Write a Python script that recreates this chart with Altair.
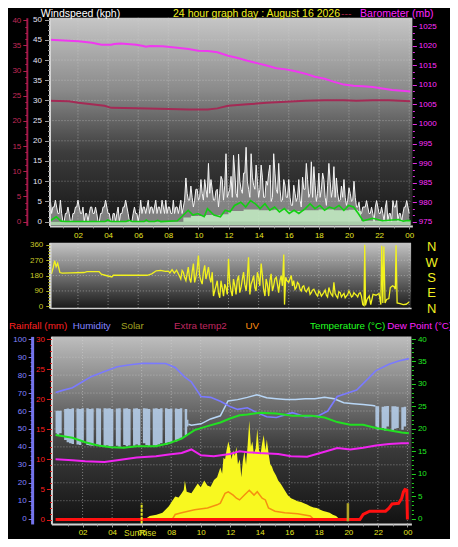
import altair as alt
import pandas as pd

# ------------------------------------------------------------------ data
HOUR_LABELS = [2, 4, 6, 8, 10, 12, 14, 16, 18, 20, 22, 24]
HOUR_TICKS = list(range(1, 25))

# barometer (mb)
baro_h = [0.11, 1.07, 2.03, 2.93, 3.57, 4.21, 4.40, 4.85, 5.88, 6.33, 6.52, 6.78, 7.61, 8.44, 9.34,
          9.98, 10.62, 11.26, 11.97, 12.61, 13.25, 13.89, 14.53, 15.17, 15.81, 16.45, 17.10, 17.74,
          18.38, 19.01, 19.66, 20.30, 20.94, 21.58, 22.22, 22.87, 23.51, 24.08]
baro_v = [1021.6, 1021.4, 1021.2, 1020.8, 1020.3, 1020.3, 1020.5, 1020.6, 1020.3, 1020.0, 1019.8,
          1020.0, 1019.9, 1019.6, 1019.2, 1018.8, 1018.7, 1018.4, 1017.5, 1016.9, 1016.2, 1015.6,
          1015.0, 1014.3, 1014.0, 1013.5, 1012.9, 1012.1, 1011.6, 1010.8, 1010.1, 1009.8, 1009.7,
          1009.5, 1009.1, 1008.7, 1008.5, 1008.3]

# extra temperature (crimson axis)
xtemp_h = [0.11, 1.39, 2.03, 3.76, 4.21, 5.88, 8.06, 9.34, 10.17, 10.62, 11.26, 11.97, 13.25, 14.53,
           15.81, 17.10, 18.38, 19.66, 20.49, 21.58, 22.67, 24.08]
xtemp_v = [24.0, 23.9, 23.6, 23.0, 22.6, 22.5, 22.4, 22.3, 22.3, 22.3, 22.5, 23.0, 23.3, 23.6, 23.8,
           24.0, 24.1, 24.1, 24.0, 24.1, 24.1, 23.9]

# wind gust (kph): readings on the 10-minute marks from 00:10 to 24:00 ...
gust_v = [
    5.3, 3.6, 5.3, 2, 5.3, 0,
    2, 3.6, 0, 2, 3.6, 5.3,
    2, 3.6, 2, 0, 3.6, 2,
    3.6, 0, 2, 3.6, 5.3, 2,
    0, 2, 0, 3.6, 2, 3.6,
    5.3, 2, 0, 2, 2, 0,
    5.3, 3.6, 2, 5.3, 3.6, 2,
    5.3, 3.6, 2, 3.6, 5.3, 3.6,
    2, 5.3, 3.6, 2, 5.3, 3.6,
    10.8, 5.3, 8.8, 3.6, 8, 5.3,
    10.4, 5.3, 8, 14.4, 10.4, 5.3,
    7.6, 3.6, 11.2, 5.3, 16.8, 7,
    11.2, 16.4, 7, 16.7, 8, 12,
    18.4, 8, 16.8, 9, 14, 6,
    14, 6, 10, 12, 5, 16.8,
    8, 14.4, 5, 10.4, 6, 10.4,
    4, 9, 5, 10.4, 3.6, 8,
    14.4, 6, 14.8, 13.6, 5, 12,
    8, 10.4, 4, 14.4, 6, 13.6,
    10.8, 5, 8.8, 10.4, 4, 8.4,
    5, 10, 3.6, 4.8, 2, 3.6,
    5.2, 2, 3.6, 0, 5.2, 2,
    3.6, 0, 5.2, 2, 0, 3.6,
    5.2, 2, 0, 3.6, 5.2, 2,
]
# ... and the readings five minutes after each of those marks (00:05 ... 23:55)
gust_mid_v = [
    3.6, 2, 3.6, 3.6, 2, 2,
    0, 2, 2, 0, 2, 3.6,
    3.6, 2, 0, 2, 2, 3.6,
    2, 2, 0, 2, 3.6, 3.6,
    2, 0, 2, 2, 0, 2,
    3.6, 3.6, 0, 0, 3.6, 2,
    2, 2, 3.6, 3.6, 2, 3.6,
    3.6, 2, 3.6, 5.3, 2, 2,
    3.6, 2, 2, 3.6, 3.6, 2,
    5.3, 7, 5.3, 6, 5.3, 8,
    6, 7, 10.4, 6, 7, 8,
    5.3, 8, 7, 10.4, 9, 6,
    8, 6, 12, 6, 10, 7,
    12, 10, 6, 11, 8, 10,
    8, 11, 6, 9, 14, 6,
    12, 7, 8, 5.3, 9, 6,
    6, 4, 7, 6, 5.3, 11,
    8, 10.4, 7, 6, 9, 7,
    6, 12, 6, 9, 10, 8,
    6, 7, 5.3, 6, 6, 5.3,
    7, 5.3, 6, 3.6, 2, 3.6,
    3.6, 3.6, 2, 2, 3.6, 3.6,
    2, 2, 3.6, 0, 2, 5.2,
    3.6, 0, 2, 2, 3.6, 3.6,
]
gust_h = [round((i + 1) / 6, 3) for i in range(len(gust_v))] + \
         [round((i + 0.5) / 6, 3) for i in range(len(gust_mid_v))]
gust_all = gust_v + gust_mid_v

# average wind speed (green line)
wavg_h = [0.11, 0.24, 0.56, 0.88, 1.2, 3.8, 3.97, 4.2, 5.2, 5.37, 5.6, 6.4, 6.54, 6.7, 7.1, 7.29, 7.5,
          8.6, 8.89, 9.32, 9.64, 9.96, 10.38, 10.6, 11.03, 11.46, 11.78, 12.1, 12.4, 12.82, 13.14,
          13.46, 13.78, 14.1, 14.42, 14.74, 15.06, 15.38, 15.71, 16.03, 16.35, 16.67, 17.1, 17.42,
          17.74, 18.06, 18.38, 18.7, 19.02, 19.34, 19.66, 19.98, 20.3, 20.62, 20.94, 21.58, 22.22,
          22.87, 23.29, 23.6, 23.9, 24.1]
wavg_v = [0.2, 0.4, 1.2, 0.1, 0, 0, 0.4, 0, 0, 0.3, 0, 0, 0.4, 0, 0, 0.3, 0, 0.2, 1.2, 2.8, 1.6, 2.0,
          1.2, 3.2, 1.6, 1.2, 2.8, 2.4, 4.0, 4.8, 3.6, 5.2, 4.4, 3.2, 4.4, 2.8, 3.6, 2.4, 3.2, 2.0,
          2.8, 2.0, 3.2, 4.4, 3.2, 4.0, 2.8, 3.6, 3.2, 4.0, 2.8, 4.0, 3.6, 2.0, 0.2, 0.8, 0.2, 0.4,
          0.5, 0.1, 0.3, 0.2]

# wind speed (pale green area)
wspd_h = [0.11, 8.8, 9.0, 9.5, 10.5, 11.5, 12.0, 13.0, 14.0, 15.0, 16.0, 17.0, 18.0, 19.0, 20.0,
          20.6, 20.8, 24.1]
wspd_v = [0.0, 0.0, 1.0, 1.4, 1.6, 1.8, 2.6, 3.0, 2.8, 2.9, 2.6, 2.8, 3.0, 2.8, 2.9, 2.6, 0.2, 0.1]

# wind direction (degrees)
dir_h = [0.24, 0.35, 0.45, 0.55, 0.65, 0.8, 0.95, 1.5, 2.4, 2.6, 3.4, 3.55, 3.8, 4.25, 4.35, 6.6,
         6.9, 7.2, 7.5, 7.8, 8.0, 8.1, 8.25, 8.4, 8.55, 8.7, 8.83, 9.0, 9.17, 9.33, 9.5, 9.67, 9.83,
         10.0, 10.17, 10.33, 10.5, 10.67, 10.83, 11.0, 11.17, 11.33, 11.5, 11.67, 11.83, 12.0,
         12.17, 12.33, 12.5, 12.67, 12.83, 13.0, 13.17, 13.33, 13.5, 13.67, 13.83, 14.0, 14.17,
         14.33, 14.5, 14.67, 14.83, 15.0, 15.17, 15.33, 15.5, 15.67, 15.72, 15.8, 16.0, 16.17,
         16.33, 16.5, 16.67, 16.83, 17.0, 17.17, 17.33, 17.5, 17.67, 17.83, 18.0, 18.17, 18.33,
         18.5, 18.67, 18.83, 19.0, 19.17, 19.33, 19.5, 19.67, 19.83, 20.0, 20.17, 20.33, 20.5,
         20.67, 20.83, 20.92, 21.0, 21.05, 21.1, 21.2, 21.35, 21.45, 21.6, 21.8, 22.0, 22.12,
         22.18, 22.25, 22.32, 22.4, 22.5, 22.65, 22.75, 22.9, 23.0, 23.08, 23.13, 23.2, 23.4,
         23.6, 23.8, 24.0,
         8.92, 9.08, 9.25, 9.42, 9.58, 9.75, 9.92, 10.08, 10.25, 10.42, 10.58, 10.75, 10.92, 11.08,
         11.25, 11.42, 11.58, 11.75, 11.92, 12.08, 12.25, 12.42, 12.58, 12.75, 12.92, 13.08, 13.25,
         13.42, 13.58, 13.75, 13.92, 14.08, 14.25, 14.42, 14.58, 14.75, 14.92, 15.08, 15.25, 15.42,
         15.58, 15.88, 16.08, 16.25, 16.42, 16.58, 16.75, 16.92, 17.08, 17.25, 17.42, 17.58, 17.75,
         17.92, 18.08, 18.25, 18.42, 18.58, 18.75, 18.92, 19.08, 19.25, 19.42, 19.58, 19.75, 19.92,
         20.08, 20.25, 20.42, 20.58, 20.75]
dir_v = [190, 225, 268, 232, 252, 198, 195, 196, 198, 203, 203, 188, 182, 172, 182, 182, 190, 208,
         210, 205, 206, 196, 215, 195, 212, 185, 160, 200, 150, 230, 140, 250, 170, 298, 150, 200,
         160, 230, 140, 60, 120, 80, 150, 60, 110, 279, 90, 160, 70, 180, 110, 200, 90, 288, 130,
         180, 90, 170, 251, 100, 160, 60, 190, 120, 170, 80, 180, 304, 10, 170, 140, 180, 150, 110,
         130, 90, 120, 85, 110, 80, 100, 70, 90, 60, 80, 65, 110, 70, 140, 60, 85, 55, 75, 60, 90,
         55, 80, 65, 75, 60, 10, 5, 360, 5, 40, 60, 10, 70, 65, 75, 10, 355, 20, 350, 20, 40, 45,
         110, 120, 115, 100, 358, 20, 15, 10, 12, 25,
         210, 170, 190, 160, 200, 140, 220, 180, 130, 240, 190, 170, 200, 90, 150, 50, 110, 130,
         70, 140, 60, 120, 150, 80, 160, 130, 170, 70, 150, 110, 200, 120, 180, 60, 130, 150, 90,
         160, 130, 150, 120, 150, 160, 120, 100, 140, 100, 115, 95, 100, 70, 95, 85, 60, 80, 70,
         95, 55, 85, 60, 75, 50, 80, 65, 50, 70, 75, 60, 70, 55, 80]

# humidity (%)
hum_h = [0.17, 0.65, 1.31, 1.96, 2.61, 3.48, 4.35, 5.23, 6.10, 7.62, 8.27, 8.93, 9.37, 10.02, 10.67,
         11.33, 11.98, 12.50, 13.16, 13.81, 14.47, 15.12, 16.21, 17.08, 17.95, 18.60, 19.25, 19.91,
         20.56, 21.22, 21.87, 22.75, 23.40, 24.10]
hum_v = [70.3, 71.5, 73.0, 76.2, 79.3, 82.0, 84.7, 85.8, 86.6, 86.5, 84.3, 78.9, 76.2, 68.1, 67.6,
         65.4, 62.5, 60.9, 61.8, 59.1, 56.8, 56.4, 59.1, 56.8, 57.3, 60.0, 68.1, 69.9, 71.7, 77.1,
         82.5, 86.1, 87.9, 89.2]

# temperature (°C)
temp_h = [0.17, 1.31, 2.18, 3.05, 3.92, 4.79, 5.66, 6.97, 7.84, 8.71, 9.58, 10.46, 11.33, 11.98,
          12.63, 13.16, 14.03, 15.12, 16.21, 17.52, 18.39, 19.25, 20.13, 21.0, 21.87, 22.75, 23.61,
          24.1]
temp_v = [18.6, 18.0, 17.0, 16.3, 15.9, 15.8, 16.1, 16.1, 16.8, 17.8, 19.7, 20.6, 21.4, 22.3, 23.0,
          23.2, 23.6, 23.4, 22.9, 22.9, 22.5, 21.5, 20.9, 20.9, 20.2, 19.7, 19.2, 19.0]

# dew point (°C)
dew_h = [0.17, 1.31, 2.18, 3.48, 4.35, 5.66, 6.97, 7.84, 8.71, 9.37, 10.02, 10.89, 11.98, 12.63,
         13.16, 13.94, 15.25, 16.12, 17.21, 18.39, 19.25, 20.13, 21.0, 21.87, 22.75, 23.61, 24.1]
dew_v = [13.2, 13.0, 12.8, 12.6, 13.0, 13.6, 13.9, 14.3, 14.6, 15.4, 14.1, 13.9, 14.4, 15.0, 14.8,
         14.6, 14.4, 13.9, 13.8, 14.9, 15.7, 15.4, 15.8, 16.3, 16.6, 16.8, 16.8]

# extra sensor (light blue trace, °C axis): flickering range (10-minute readings) ...
band_top = [24.0, 24.0, 24.0, 23.0, 24.4, 24.5, 24.4, 24.6, 22.5, 24.5, 24.4, 24.6,
            24.5, 24.6, 24.4, 24.5, 23.5, 24.6, 24.5, 24.4, 24.6, 24.5, 24.6, 24.4,
            24.6, 24.5, 24.6, 22.8, 24.5, 24.6, 24.4, 24.6, 24.5, 24.6, 24.4, 24.5,
            24.6, 24.5, 24.4, 24.6, 24.5, 24.6, 24.4, 24.6, 24.5, 24.6, 24.4, 24.5,
            24.6, 24.5, 24.4, 24.6, 24.5, 24.4, 22.0]
band_bot = [19.0, 18.5, 19.0, 23.0, 17.5, 17.0, 16.8, 16.6, 22.5, 16.5, 16.4, 17.2,
            24.5, 16.4, 16.3, 16.2, 23.5, 16.5, 16.2, 24.4, 16.0, 16.3, 16.0, 16.1,
            24.6, 16.2, 16.0, 22.8, 16.4, 16.1, 16.3, 24.6, 16.2, 16.5, 16.2, 24.5,
            16.8, 16.4, 16.1, 24.6, 16.3, 16.2, 16.5, 16.8, 24.5, 16.4, 17.0, 16.8,
            24.6, 17.2, 17.6, 18.0, 24.5, 18.5, 20.5]
band_h = [round((i + 1) / 6, 3) for i in range(len(band_top))]
band2_h = [21.83, 22.0, 22.17, 22.33, 22.5, 22.67, 22.83, 23.0, 23.17, 23.33, 23.5, 23.67, 23.83,
           24.0, 24.1]
band2_top = [25.1, 25.0, 25.1, 24.9, 25.0, 25.1, 24.8, 25.0, 25.0, 24.9, 25.0, 24.8, 24.9, 24.5,
             24.5]
band2_bot = [20.5, 19.8, 25.1, 20.2, 19.6, 20.5, 24.8, 19.5, 20.0, 20.2, 25.0, 19.8, 20.5, 24.5,
             24.5]
# ... and steady trace in between
xs_h = [9.17, 9.37, 10.02, 10.67, 11.33, 11.85, 12.5, 13.16, 13.81, 14.47, 15.12, 15.77, 16.42,
        17.08, 17.73, 18.39, 19.04, 19.69, 20.35, 21.0, 21.65, 21.83]
xs_v = [21.0, 20.8, 21.1, 22.2, 22.9, 26.2, 26.5, 27.0, 27.6, 26.9, 26.7, 26.5, 26.5, 26.7, 26.7,
        27.0, 26.7, 25.8, 25.6, 25.4, 25.2, 25.1]

# solar radiation (W/m2)
sol_h = [6.3, 6.54, 7.0, 7.41, 7.84, 8.05, 8.27, 8.5, 8.71, 8.85, 8.93, 9.05, 9.37, 9.6, 9.80, 10.0,
         10.24, 10.45, 10.67, 10.9, 11.11, 11.33, 11.45, 11.54, 11.65, 11.75, 11.87, 11.98, 12.09,
         12.2, 12.31, 12.42, 12.52, 12.65, 12.75, 12.85, 12.96, 13.07, 13.18, 13.29, 13.4, 13.50,
         13.6, 13.73, 13.83, 13.95, 14.05, 14.16, 14.27, 14.38, 14.48, 14.6, 14.71, 14.82, 14.92,
         15.1, 15.25, 15.45, 15.69, 15.9, 16.12, 16.35, 16.56, 16.8, 16.99, 17.2, 17.42, 17.65,
         17.86, 18.1, 18.30, 18.5, 18.73, 18.95, 19.17, 19.35]
sol_v = [0, 15, 22, 32, 69, 95, 123, 118, 141, 160, 212, 150, 141, 170, 195, 175, 212, 185, 177,
         215, 231, 285, 250, 339, 330, 380, 429, 393, 330, 380, 348, 400, 303, 330, 231, 320, 375,
         300, 411, 546, 400, 429, 360, 393, 500, 380, 357, 420, 465, 380, 440, 360, 303, 290, 266,
         240, 212, 190, 158, 130, 114, 105, 96, 92, 86, 78, 69, 62, 59, 50, 42, 38, 32, 22, 15, 0]

# UV index
uv_h = [8.1, 8.27, 8.71, 9.58, 10.46, 11.11, 11.33, 11.54, 11.65, 11.87, 12.2, 12.42, 12.63, 12.96,
        13.29, 13.61, 13.83, 14.16, 14.38, 14.59, 15.03, 15.69, 16.56, 17.42, 17.6]
uv_v = [0, 0.46, 0.65, 1.0, 1.19, 1.54, 1.73, 2.45, 2.81, 2.99, 2.62, 2.27, 2.08, 2.62, 3.16, 2.62,
        2.99, 2.27, 2.08, 1.19, 0.83, 0.65, 0.54, 0.29, 0]

# rainfall (mm)
rain_h = [0.17, 20.78, 21.0, 21.44, 22.52, 22.75, 22.96, 23.4, 23.61, 23.73, 23.83, 23.96, 24.0]
rain_v = [0, 0, 0.85, 1.4, 1.4, 1.9, 2.6, 2.7, 3.5, 4.6, 5.0, 4.9, 0]

SUNRISE_H = 6.0
SUNSET_H = 19.97

# ------------------------------------------------------------------ layout helpers
W, H = 442, 531
SX, SY = W / 458, H / 547
FONT = "Liberation Sans"


def px(v):
    return round(v * SX, 2)


def py(v):
    return round(v * SY, 2)


def S(g):
    return alt.Scale(domain=list(g[0]), range=list(g[1]), zero=False, nice=False)


# panels: (domain, pixel range)
TX = ([0.109, 24.21], [px(43), px(419)])
MX = ([0.128, 24.13], [px(43.3), px(417.7)])
BX = ([-0.111, 24.27], [px(45), px(418)])
WS = ([-0.96, 50.48], [py(224), py(10)])
CR = ([-0.77, 40.52], [py(224), py(10)])
BA = ([974.0, 1027.24], [py(224), py(10)])
DR = ([-9.7, 373.2], [py(309), py(241.7)])
HU = ([-2.97, 101.6], [py(531.5), py(338.3)])
RA = ([-0.73, 30.44], [py(531.5), py(338.3)])
TE = ([-1.19, 40.58], [py(531.5), py(338.3)])
SO = ([-29.7, 1014.5], [py(531.5), py(338.3)])
UVG = ([-0.59, 20.27], [py(531.5), py(338.3)])


def X(f, g):
    return alt.X(f, type="quantitative", scale=S(g), axis=None)


def Y(f, g):
    return alt.Y(f, type="quantitative", scale=S(g), axis=None)


def line(h, v, gx, gy, color, width, **kw):
    df = pd.DataFrame({"h": h, "v": v}).sort_values("h")
    return alt.Chart(df).mark_line(color=color, strokeWidth=width, **kw).encode(
        x=X("h", gx), y=Y("v", gy))


def area(h, v, base, gx, gy, color, opacity, **kw):
    df = pd.DataFrame({"h": h, "v": v, "b": base}).sort_values("h")
    return alt.Chart(df).mark_area(color=color, opacity=opacity, **kw).encode(
        x=X("h", gx), y=Y("v", gy), y2="b")


def grad(stops):
    return alt.Gradient(gradient="linear", x1=0, x2=0, y1=0, y2=1,
                        stops=[alt.GradientStop(offset=o, color=c) for o, c in stops])


def background(gx, gy, stops):
    df = pd.DataFrame({"x0": [gx[0][0]], "x1": [gx[0][1]], "y0": [gy[0][0]], "y1": [gy[0][1]]})
    return alt.Chart(df).mark_rect(fill=grad(stops), strokeWidth=0).encode(
        x=X("x0", gx), x2="x1", y=Y("y0", gy), y2="y1")


GRID = dict(color="#d8d8d8", strokeDash=[1, 2], strokeWidth=1, opacity=0.5)


def vgrid(gx, gy, hours):
    df = pd.DataFrame({"h": hours, "a": gy[0][0], "b": gy[0][1]})
    return alt.Chart(df).mark_rule(**GRID).encode(x=X("h", gx), y=Y("a", gy), y2="b")


def hgrid(gx, gy, vals):
    df = pd.DataFrame({"v": vals, "a": gx[0][0], "b": gx[0][1]})
    return alt.Chart(df).mark_rule(**GRID).encode(y=Y("v", gy), x=X("a", gx), x2="b")


def axis_layer(ch, g, **kw):
    base = dict(grid=False, title=None, labelFont=FONT, labelFontSize=8, labelOverlap=False,
                labelFlush=False, zindex=1, tickWidth=1, format="d")
    base.update(kw)
    df = pd.DataFrame({"v": [g[0][0]]})
    if ch == "y":
        enc = dict(y=alt.Y("v:Q", scale=S(g), axis=alt.Axis(**base)), x=alt.value(0))
    else:
        enc = dict(x=alt.X("v:Q", scale=S(g), axis=alt.Axis(**base)), y=alt.value(0))
    return alt.Chart(df).mark_point(opacity=0).encode(**enc)


def text(t, x, y, color, size=10.5, align="left", baseline="alphabetic"):
    return alt.Chart(pd.DataFrame({"t": [t]})).mark_text(
        align=align, baseline=baseline, font=FONT, fontSize=size, color=color
    ).encode(text="t:N", x=alt.value(x), y=alt.value(y))


def steps(lo, hi, step):
    out, v = [], lo
    while v <= hi + 1e-9:
        out.append(round(v, 3))
        v += step
    return out


HOUR_EXPR = "datum.value == 24 ? '00' : (datum.value < 10 ? '0' + datum.value : '' + datum.value)"
YEL = "#e6e622"

layers = []

# ---------------- top panel: wind + barometer
layers.append(background(TX, WS, [(0, "#c6c6c6"), (0.35, "#8a8a8a"), (0.65, "#3c3c3c"), (1, "#161616")]))
layers.append(vgrid(TX, WS, HOUR_LABELS))
layers.append(hgrid(TX, WS, steps(5, 50, 5)))
layers.append(area(gust_h, gust_all, 0, TX, WS, "#c4c4c4", 0.6))
layers.append(line(gust_h, gust_all, TX, WS, "#f4f4f4", 1))
layers.append(area(wspd_h, wspd_v, -0.9, TX, WS, "#c4eec4", 0.85, interpolate="step-after"))
layers.append(line(wavg_h, wavg_v, TX, WS, "#12d012", 1.6))
layers.append(line(xtemp_h, xtemp_v, TX, CR, "#a42a55", 2))
layers.append(line(baro_h, baro_v, TX, BA, "#f038f0", 2))

# ---------------- middle panel: wind direction
layers.append(background(MX, DR, [(0, "#c4c4c4"), (0.45, "#7a7a7a"), (1, "#1a1a1a")]))
layers.append(vgrid(MX, DR, HOUR_LABELS))
layers.append(hgrid(MX, DR, [90, 180, 270]))
layers.append(line(dir_h, dir_v, MX, DR, "#f2f21e", 1.3))
compass = pd.DataFrame({"t": ["N", "W", "S", "E", "N"], "v": [360, 270, 180, 90, 0]})
layers.append(alt.Chart(compass).mark_text(font=FONT, fontSize=13, color="#f0f020", dy=2.5).encode(
    text="t:N", y=Y("v", DR), x=alt.value(px(439))))

# ---------------- bottom panel
layers.append(background(BX, HU, [(0, "#bebebe"), (0.3, "#7c7c7c"), (0.6, "#3a3a3a"), (1, "#121212")]))
layers.append(vgrid(BX, HU, HOUR_LABELS))
layers.append(hgrid(BX, HU, steps(10, 90, 10)))
layers.append(area(sol_h, sol_v, 0, BX, SO, "#f8f820", 1))
layers.append(line(uv_h, uv_v, BX, UVG, "#f59010", 1.5))
layers.append(area(band_h, band_top, band_bot, BX, TE, "#b4cce8", 0.9, interpolate="step"))
layers.append(area(band2_h, band2_top, band2_bot, BX, TE, "#b4cce8", 0.9, interpolate="step"))
layers.append(line(xs_h, xs_v, BX, TE, "#b8d6f6", 1.5))
layers.append(line(hum_h, hum_v, BX, HU, "#7a7aff", 1.6))
layers.append(line(temp_h, temp_v, BX, TE, "#22e022", 2))
layers.append(line(dew_h, dew_v, BX, TE, "#f024f0", 2))
layers.append(line(rain_h, rain_v, BX, RA, "#ff1010", 3))
sun = pd.DataFrame({"h": [SUNRISE_H], "a": [-2.9], "b": [8.6]})
layers.append(alt.Chart(sun).mark_rule(color="#e8e820", strokeWidth=2, strokeDash=[3, 1]).encode(
    x=X("h", BX), y=Y("a", HU), y2="b"))
sset = pd.DataFrame({"h": [SUNSET_H], "a": [-1.5], "b": [8.6]})
layers.append(alt.Chart(sset).mark_rule(color="#b0a428", strokeWidth=2.5).encode(
    x=X("h", BX), y=Y("a", HU), y2="b"))
layers.append(alt.Chart(pd.DataFrame({"t": ["SunRise"], "h": [5.9]})).mark_text(
    font=FONT, fontSize=8.5, color="#d8d820", baseline="middle").encode(
    text="t:N", x=X("h", BX), y=alt.value(py(541))))

# ---------------- axes
# top panel
layers.append(axis_layer("y", CR, orient="left", offset=-px(19.5), values=steps(0, 40, 5),
                         labelColor="#c02a58", tickColor="#b02050", tickSize=4, labelPadding=2,
                         domainColor="#a01848", domainWidth=2))
layers.append(axis_layer("y", CR, orient="left", offset=-px(19.5), values=steps(0, 40, 1.25),
                         labels=False, domain=False, tickColor="#b02050", tickSize=2))
layers.append(axis_layer("y", WS, orient="left", offset=-px(43), values=steps(0, 50, 5),
                         labelColor="#e4e4f8", tickColor="#9a9a9a", tickSize=5, labelPadding=3,
                         domainColor="#d4d4d4", domainWidth=2))
layers.append(axis_layer("y", WS, orient="left", offset=-px(43), values=steps(0, 50, 1.25),
                         labels=False, domain=False, tickColor="#9a9a9a", tickSize=2))
layers.append(axis_layer("y", BA, orient="right", offset=px(419) - W, values=steps(975, 1025, 5),
                         labelColor="#ff30ff", tickColor="#e030e0", tickSize=4, labelPadding=2,
                         domain=False))
layers.append(axis_layer("y", BA, orient="right", offset=px(419) - W, values=steps(975, 1025, 5 / 3),
                         labels=False, domain=False, tickColor="#e030e0", tickSize=2))
layers.append(axis_layer("x", TX, orient="bottom", offset=py(224.5) - H, values=HOUR_LABELS,
                         labelExpr=HOUR_EXPR, labelColor=YEL, tickColor="#9a9a9a", tickSize=3,
                         labelPadding=3, domainColor="#d4d4d4", domainWidth=2))
layers.append(axis_layer("x", TX, orient="bottom", offset=py(224.5) - H, values=HOUR_TICKS,
                         labels=False, domain=False, tickColor="#9a9a9a", tickSize=2))
# middle panel
layers.append(axis_layer("y", DR, orient="left", offset=-px(43.3), values=[0, 90, 180, 270, 360],
                         labelColor="#c8c828", tickColor="#b0b020", tickSize=4, labelPadding=3,
                         domainColor="#d8d8d8", domainWidth=2.5))
layers.append(axis_layer("y", DR, orient="left", offset=-px(43.3), values=steps(0, 360, 18),
                         labels=False, domain=False, tickColor="#b0b020", tickSize=2))
layers.append(axis_layer("x", MX, orient="bottom", offset=py(309) - H, labels=False, ticks=False,
                         domainColor="#d0d0d0", domainWidth=1.5))
# bottom panel
layers.append(axis_layer("y", HU, orient="left", offset=-px(25), values=steps(0, 100, 10),
                         labelColor="#8484ff", tickColor="#7878f0", tickSize=4, labelPadding=2,
                         domainColor="#7474ec", domainWidth=3))
layers.append(axis_layer("y", HU, orient="left", offset=-px(25), values=steps(0, 100, 2.5),
                         labels=False, domain=False, tickColor="#7878f0", tickSize=2))
layers.append(axis_layer("y", RA, orient="left", offset=-px(45), values=steps(0, 30, 5),
                         labelColor="#ff2020", tickColor="#e01818", tickSize=5, labelPadding=2,
                         domainColor="#d4d4d4", domainWidth=2))
layers.append(axis_layer("y", RA, orient="left", offset=-px(45), values=steps(0, 30, 1),
                         labels=False, domain=False, tickColor="#e01818", tickSize=2))
layers.append(axis_layer("y", TE, orient="right", offset=px(418) - W, values=steps(0, 40, 5),
                         labelColor="#22e822", tickColor="#20d020", tickSize=4, labelPadding=2,
                         domain=False))
layers.append(axis_layer("y", TE, orient="right", offset=px(418) - W, values=steps(0, 40, 1),
                         labels=False, domain=False, tickColor="#20d020", tickSize=2))
layers.append(axis_layer("x", BX, orient="bottom", offset=py(531.5) - H, values=HOUR_LABELS,
                         labelExpr=HOUR_EXPR, labelColor=YEL, tickColor="#9a9a9a", tickSize=3,
                         labelPadding=2, domainColor="#d4d4d4", domainWidth=2))
layers.append(axis_layer("x", BX, orient="bottom", offset=py(531.5) - H, values=HOUR_TICKS,
                         labels=False, domain=False, tickColor="#9a9a9a", tickSize=2))

# ---------------- titles / legends
layers.append(text("Windspeed (kph)", px(34), py(9.5), "#ffffff"))
layers.append(text("24 hour graph day : August 16 2026", px(171), py(9.5), "#f0f020"))
layers.append(text("---", px(345), py(9.5), "#a02040"))
layers.append(text("Barometer (mb)", px(441), py(9.5), "#ff24ff", align="right"))
LEG = 9.8
layers.append(text("Rainfall (mm)", px(1), py(331), "#ff2020", LEG))
layers.append(text("Humidity", px(67), py(331), "#8484ff", LEG))
layers.append(text("Solar", px(117), py(331), "#a0a020", LEG))
layers.append(text("Extra temp2", px(172), py(331), "#c02860", LEG))
layers.append(text("UV", px(246), py(331), "#ff8c10", LEG))
layers.append(text("Temperature (°C)", px(313), py(331), "#22ff22", LEG))
layers.append(text("Dew Point (°C)", px(393), py(331), "#ff24ff", LEG))

chart = alt.layer(*layers).resolve_scale(x="independent", y="independent").properties(
    width=W, height=H, background="#000000", padding=0,
    autosize=alt.AutoSizeParams(type="none"),
).configure_view(stroke=None)

chart.save("out.html", embed_options={"renderer": "svg", "actions": False})
